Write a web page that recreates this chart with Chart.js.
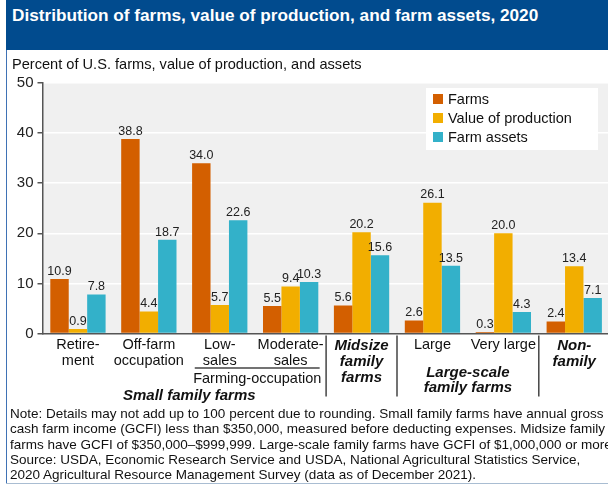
<!DOCTYPE html>
<html>
<head>
<meta charset="utf-8">
<script src="https://cdn.jsdelivr.net/npm/chart.js@4.4.0/dist/chart.umd.min.js"></script>
<style>
  html, body { margin:0; padding:0; }
  body { width:608px; height:486px; overflow:hidden; position:relative; background:#fff;
         font-family:"Liberation Sans", Arial, sans-serif; }
  #hdr { position:absolute; left:6px; top:0; width:602px; height:50px; background:#014b8e; z-index:2; }
  #hdr span { position:absolute; left:6px; top:5px; color:#fff; font-weight:bold; font-size:17.2px; line-height:20px; white-space:nowrap; }
  #sub { position:absolute; left:12px; top:56px; font-size:14.6px; line-height:16px; color:#111; white-space:nowrap; z-index:2; }
  #note { position:absolute; left:10px; top:406px; font-size:13.5px; line-height:15.3px; color:#111; white-space:nowrap; z-index:2; }
  #lb { position:absolute; left:6px; top:50px; width:1px; height:434px; background:#3f72b5; z-index:2; }
  #bb { position:absolute; left:6px; top:483px; width:602px; height:1px; background:#a9bdd2; z-index:2; }
  canvas { position:absolute; left:0; top:0; z-index:1; }
</style>
</head>
<body>
<div id="hdr"><span id="title"></span></div>
<div id="sub"></div>
<canvas id="c" width="612" height="486"></canvas>
<div id="note"></div>
<div id="lb"></div>
<div id="bb"></div>
<script>
const titleText = "Distribution of farms, value of production, and farm assets, 2020";
const subtitleText = "Percent of U.S. farms, value of production, and assets";
const noteLines = [
  "Note: Details may not add up to 100 percent due to rounding. Small family farms have annual gross",
  "cash farm income (GCFI) less than $350,000, measured before deducting expenses. Midsize family",
  "farms have GCFI of $350,000\u2013$999,999. Large-scale family farms have GCFI of $1,000,000 or more.",
  "Source: USDA, Economic Research Service and USDA, National Agricultural Statistics Service,",
  "2020 Agricultural Resource Management Survey (data as of December 2021)."
];

const categories = [
  ["Retire-", "ment"],
  ["Off-farm", "occupation"],
  ["Low-", "sales"],
  ["Moderate-", "sales"],
  ["Midsize", "family", "farms"],
  ["Large"],
  ["Very large"],
  ["Non-", "family"]
];
const boldCategories = [4, 7];
const seriesNames = ["Farms", "Value of production", "Farm assets"];
const farms      = [10.9, 38.8, 34.0, 5.5, 5.6, 2.6, 0.3, 2.4];
const production = [0.9, 4.4, 5.7, 9.4, 20.2, 26.1, 20.0, 13.4];
const assets     = [7.8, 18.7, 22.6, 10.3, 15.6, 13.5, 4.3, 7.1];
const yTicks = [0, 10, 20, 30, 40, 50];
const subGroupLabel = "Farming-occupation";
const smallGroupLabel = "Small family farms";
const largeGroupLabel = ["Large-scale", "family farms"];
const separatorsAfter = [3, 4, 6];

const colors = ["#d35f00", "#f2ae00", "#33b1c9"];
const FONT = '"Liberation Sans", Arial, sans-serif';

document.getElementById('title').textContent = titleText;
document.getElementById('sub').textContent = subtitleText;
const noteEl = document.getElementById('note');
noteLines.forEach((l, i) => {
  if (i) noteEl.appendChild(document.createElement('br'));
  noteEl.appendChild(document.createTextNode(l));
});

const bgPlugin = {
  id: 'bg',
  beforeDraw(chart) {
    const { ctx, chartArea: a } = chart;
    ctx.save();
    ctx.fillStyle = '#f0f0f0';
    ctx.fillRect(a.left, a.top, a.right - a.left, a.bottom - a.top);
    ctx.restore();
  }
};

const labelPlugin = {
  id: 'valueLabels',
  afterDatasetsDraw(chart) {
    const ctx = chart.ctx;
    ctx.save();
    ctx.font = '12.5px ' + FONT;
    ctx.fillStyle = '#222';
    ctx.textAlign = 'center';
    ctx.textBaseline = 'bottom';
    chart.data.datasets.forEach((ds, di) => {
      const meta = chart.getDatasetMeta(di);
      meta.data.forEach((bar, i) => {
        ctx.fillText(ds.data[i].toFixed(1), bar.x, bar.y - 1.5);
      });
    });
    ctx.restore();
  }
};

const legendPlugin = {
  id: 'customLegend',
  afterDraw(chart) {
    const { ctx, chartArea: a } = chart;
    const bx = a.left + 383.5, by = a.top + 5, bw = 172, bh = 62;
    ctx.save();
    ctx.fillStyle = '#fff';
    ctx.fillRect(bx, by, bw, bh);
    ctx.font = '14.5px ' + FONT;
    ctx.textBaseline = 'middle';
    ctx.textAlign = 'left';
    chart.data.datasets.forEach((ds, i) => {
      const cy = by + 11 + i * 19;
      ctx.fillStyle = ds.backgroundColor;
      ctx.fillRect(bx + 7, cy - 5, 10, 10);
      ctx.fillStyle = '#111';
      ctx.fillText(ds.label, bx + 22, cy + 1);
    });
    ctx.restore();
  }
};

const groupPlugin = {
  id: 'groups',
  afterDraw(chart) {
    const { ctx, chartArea: a } = chart;
    const xs = chart.scales.x;
    const px = i => xs.getPixelForValue(i);
    ctx.save();
    ctx.strokeStyle = '#444';
    ctx.lineWidth = 1.5;
    separatorsAfter.forEach(i => {
      const x = (px(i) + px(i + 1)) / 2;
      ctx.beginPath();
      ctx.moveTo(x, a.bottom + 2);
      ctx.lineTo(x, a.bottom + 63);
      ctx.stroke();
    });
    ctx.beginPath();
    ctx.moveTo(px(2) - 25, a.bottom + 34.5);
    ctx.lineTo(px(3) + 29, a.bottom + 34.5);
    ctx.stroke();
    ctx.fillStyle = '#111';
    ctx.textAlign = 'center';
    ctx.textBaseline = 'middle';
    ctx.font = '14.5px ' + FONT;
    ctx.fillText(subGroupLabel, (px(2) + px(3)) / 2 + 2, a.bottom + 45);
    ctx.font = 'italic bold 15px ' + FONT;
    ctx.fillText(smallGroupLabel, (px(0) + px(3)) / 2 + 5, a.bottom + 62);
    largeGroupLabel.forEach((t, k) => {
      ctx.fillText(t, (px(5) + px(6)) / 2, a.bottom + 39 + k * 15.5);
    });
    ctx.restore();
  }
};

new Chart(document.getElementById('c'), {
  type: 'bar',
  data: {
    labels: categories,
    datasets: [
      { label: seriesNames[0], data: farms, backgroundColor: colors[0] },
      { label: seriesNames[1], data: production, backgroundColor: colors[1] },
      { label: seriesNames[2], data: assets, backgroundColor: colors[2] }
    ]
  },
  options: {
    responsive: false,
    animation: false,
    devicePixelRatio: 1,
    layout: { padding: { left: 0, right: 2.3, top: 83, bottom: 0 } },
    datasets: { bar: { categoryPercentage: 0.78, barPercentage: 1.0, borderWidth: 0 } },
    plugins: { legend: { display: false }, tooltip: { enabled: false }, title: { display: false } },
    scales: {
      x: {
        grid: { display: false, drawTicks: false },
        border: { display: true, color: '#555', width: 1.5 },
        ticks: {
          padding: 4,
          color: '#111',
          autoSkip: false,
          maxRotation: 0,
          font: (ctx) => boldCategories.includes(ctx.index)
            ? { family: FONT, size: 15, style: 'italic', weight: 'bold', lineHeight: 1.08 }
            : { family: FONT, size: 14.5, lineHeight: 1.1 }
        },
        afterFit: (s) => { s.height = 152.5; }
      },
      y: {
        min: 0, max: 50,
        afterBuildTicks: (s) => { s.ticks = yTicks.map(v => ({ value: v })); },
        grid: { color: '#ffffff', lineWidth: 1.5, drawTicks: true, tickLength: 5, tickColor: '#555' },
        border: { display: true, color: '#555', width: 1.5 },
        ticks: { padding: 4, color: '#222', font: { family: FONT, size: 15 } },
        afterFit: (s) => { s.width = 42.5; }
      }
    }
  },
  plugins: [bgPlugin, labelPlugin, legendPlugin, groupPlugin]
});
</script>
</body>
</html>
